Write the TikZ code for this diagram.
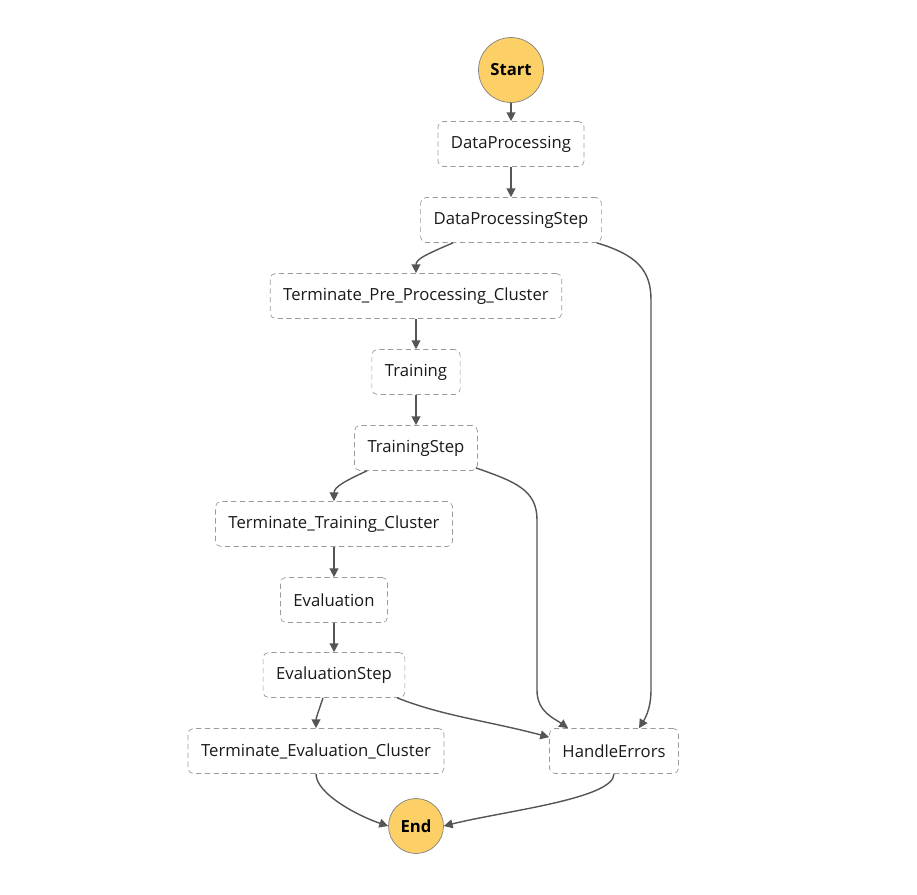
\documentclass[tikz,border=0pt]{standalone}
\usepackage{fontspec}
\setmainfont{Open Sans}
\usepackage{tikz}
\usetikzlibrary{positioning, calc, shapes, arrows.meta}

\definecolor{stepgray}{HTML}{9A9A9A}
\definecolor{linegray}{HTML}{555555}
\definecolor{termyellow}{HTML}{FDD067}

\tikzset{
    state/.style={draw=stepgray, dashed, dash pattern=on 3pt off 2pt, rounded corners=3pt,
        minimum height=0.9cm, inner xsep=0.26cm, text=black!90, font=\fontsize{9.5}{10}\selectfont},
    terminal/.style={circle, draw=gray, fill=termyellow, font=\fontsize{9.5}{10}\selectfont\bfseries},
    flow/.style={-{Triangle[length=5pt,width=5pt]}, draw=linegray, line width=0.8pt}
}

\begin{document}
\begin{tikzpicture}[x=0.02cm, y=-0.02cm]
    \useasboundingbox (0,0) rectangle (917,894);
    % terminals
    \node[terminal, minimum size=1.3cm] (start) at (511,70) {Start};
    \node[terminal, minimum size=1.1cm] (end) at (416,826) {End};
    % steps
    \node[state] (dp)  at (511,144) {DataProcessing};
    \node[state] (dps) at (511,220) {DataProcessingStep};
    \node[state] (tpp) at (416,296) {Terminate\_Pre\_Processing\_Cluster};
    \node[state] (tr)  at (416,372) {Training};
    \node[state] (ts)  at (416,448) {TrainingStep};
    \node[state] (ttc) at (334,524) {Terminate\_Training\_Cluster};
    \node[state] (ev)  at (334,600) {Evaluation};
    \node[state] (es)  at (334,675) {EvaluationStep};
    \node[state] (tec) at (316,751) {Terminate\_Evaluation\_Cluster};
    \node[state] (he)  at (614,751) {HandleErrors};

    \draw[flow] (start) -- (dp);
    \draw[flow] (dp) -- (dps);
    \draw[flow] ($(dps.south)+(-58,0)$) .. controls +(-28,12) and +(0,-14) .. (tpp.north);
    \draw[flow] ($(dps.south east)+(-5,0)$) .. controls +(40,12) and +(0,-30) .. (651,300)
        -- (651,690) .. controls +(0,20) and +(5,-8) .. ($(he.north)+(25,0)$);
    \draw[flow] (tpp) -- (tr);
    \draw[flow] (tr) -- (ts);
    \draw[flow] ($(ts.south)+(-49,0)$) .. controls +(-22,10) and +(0,-14) .. (ttc.north);
    \draw[flow] ($(ts.south east)+(-2,-3)$) .. controls +(40,14) and +(0,-30) .. (537,520)
        -- (537,690) .. controls +(0,22) and +(-14,-10) .. ($(he.north)+(-46,0)$);
    \draw[flow] (ttc) -- (ev);
    \draw[flow] (ev) -- (es);
    \draw[flow] ($(es.south)+(-11,0)$) .. controls +(-4,12) and +(0,-10) .. (tec.north);
    \draw[flow] ($(es.south east)+(-8,0)$) .. controls +(45,18) and +(-60,-16) .. ($(he.north west)+(0,9)$);
    \draw[flow] (tec.south) .. controls +(0,20) and +(-30,-10) .. (end.west);
    \draw[flow] (he.south) .. controls +(0,25) and +(60,-15) .. (end.east);
\end{tikzpicture}
\end{document}
